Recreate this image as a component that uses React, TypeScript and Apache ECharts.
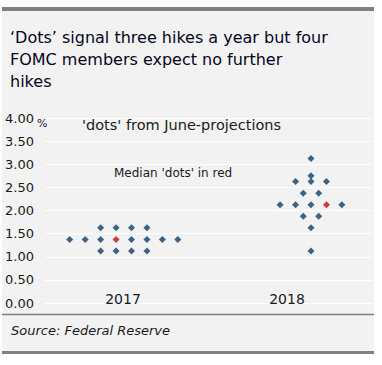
import { useEffect, useRef } from "react";
import * as echarts from "echarts";

const titleLines = [
  "‘Dots’ signal three hikes a year but four",
  "FOMC members expect no further",
  "hikes",
];
const categories = ["2017", "2018"];
const yMin = 0;
const yMax = 4;
const yInterval = 0.5;
const unitLabel = "%";
const noteProjections = "'dots' from June-projections";
const noteMedian = "Median 'dots' in red";
const sourceText = "Source: Federal Reserve";

// each dot: [slot offset from its year's column, rate %]
const dots2017: number[][] = [
  [-1.5, 1.625], [-0.5, 1.625], [0.5, 1.625], [1.5, 1.625],
  [-3.5, 1.375], [-2.5, 1.375], [-1.5, 1.375], [0.5, 1.375], [1.5, 1.375], [2.5, 1.375], [3.5, 1.375],
  [-1.5, 1.125], [-0.5, 1.125], [0.5, 1.125], [1.5, 1.125],
];
const median2017: number[][] = [[-0.5, 1.375]];
const dots2018: number[][] = [
  [0, 3.125],
  [0, 2.75],
  [-1, 2.625], [0, 2.625], [1, 2.625],
  [-0.5, 2.375], [0.5, 2.375],
  [-2, 2.125], [-1, 2.125], [0, 2.125], [2, 2.125],
  [-0.5, 1.875], [0.5, 1.875],
  [0, 1.625],
  [0, 1.125],
];
const median2018: number[][] = [[1, 2.125]];

// column centres on the slot scale
const columnCentres = [5.1, 17.22];
const slotMax = 21.17;

const NAVY = "#0e3e66";
const RED = "#cc0a14";
const FONT = "DejaVu Sans";

function place(pts: number[][], col: number) {
  return pts.map(([o, v]) => [columnCentres[col] + o, v]);
}

export default function App() {
  const ref = useRef<HTMLDivElement>(null);
  useEffect(() => {
    if (!ref.current) return;
    const chart = echarts.init(ref.current, null, { renderer: "svg" });
    const scatterBase = {
      type: "scatter" as const,
      symbol: "diamond",
      symbolSize: 7,
      xAxisIndex: 0,
      yAxisIndex: 0,
      z: 3,
    };
    chart.setOption({
      animation: false,
      backgroundColor: "#ffffff",
      grid: [
        { left: 45, right: 10, top: 118, bottom: 62 },
        { left: 41, right: 13, top: 118, bottom: 76 },
      ],
      xAxis: [
        {
          type: "value",
          gridIndex: 0,
          min: 0,
          max: slotMax,
          show: false,
        },
        {
          type: "category",
          gridIndex: 1,
          data: categories,
          axisLine: { show: false },
          axisTick: { show: false },
          axisLabel: { margin: 3, fontSize: 14, color: "#1a1a1a", fontFamily: FONT },
        },
      ],
      yAxis: [
        {
          type: "value",
          gridIndex: 0,
          min: yMin,
          max: yMax,
          interval: yInterval,
          axisLine: { show: false },
          axisTick: { show: false },
          splitLine: { lineStyle: { color: "#ffffff", width: 1 } },
          axisLabel: {
            formatter: (v: number) => v.toFixed(2),
            align: "left",
            margin: 40,
            fontSize: 13,
            color: "#1a1a1a",
            fontFamily: FONT,
          },
        },
        { type: "value", gridIndex: 1, show: false },
      ],
      series: [
        { ...scatterBase, data: place(dots2017, 0), itemStyle: { color: NAVY } },
        { ...scatterBase, data: place(median2017, 0), itemStyle: { color: RED } },
        { ...scatterBase, data: place(dots2018, 1), itemStyle: { color: NAVY } },
        { ...scatterBase, data: place(median2018, 1), itemStyle: { color: RED } },
      ],
      graphic: [
        { type: "rect", z: -10, shape: { x: 2, y: 10, width: 372, height: 341 }, style: { fill: "#f2f2f2" } },
        { type: "rect", z: -9, shape: { x: 2, y: 7, width: 372, height: 4 }, style: { fill: "#808080" } },
        { type: "rect", z: -9, shape: { x: 2, y: 351, width: 372, height: 3 }, style: { fill: "#808080" } },
        { type: "line", z: -9, shape: { x1: 2, y1: 314.5, x2: 374, y2: 314.5 }, style: { stroke: "#808080", lineWidth: 1.5 } },
        ...titleLines.map((t, i) => ({
          type: "text",
          x: 10,
          y: 37 + i * 22,
          style: { text: t, fill: "#05051a", fontSize: 16, fontWeight: 500, fontFamily: FONT, verticalAlign: "middle" },
        })),
        { type: "text", x: 37, y: 123, style: { text: unitLabel, fill: "#1a1a1a", fontSize: 11, fontFamily: FONT, verticalAlign: "middle" } },
        { type: "text", x: 82, y: 125, style: { text: noteProjections, fill: "#1a1a1a", fontSize: 14.5, fontFamily: FONT, verticalAlign: "middle" } },
        { type: "text", x: 114, y: 173, style: { text: noteMedian, fill: "#1a1a1a", fontSize: 12, fontFamily: FONT, verticalAlign: "middle" } },
        { type: "text", x: 11, y: 330, style: { text: sourceText, fill: "#1a1a1a", fontSize: 13, fontStyle: "italic", fontFamily: FONT, verticalAlign: "middle" } },
      ],
    });
    return () => chart.dispose();
  }, []);
  return (
    <div
      ref={ref}
      style={{ position: "fixed", left: 0, top: 0, width: 382, height: 365 }}
    />
  );
}
